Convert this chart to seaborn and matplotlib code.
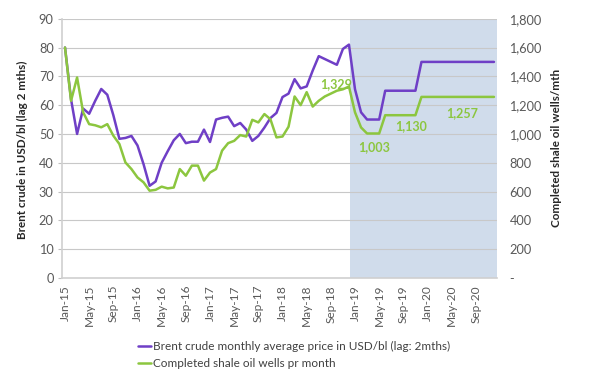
import numpy as np
import pandas as pd
import matplotlib.pyplot as plt
from matplotlib.lines import Line2D
import seaborn as sns

sns.set_style("white")
plt.rcParams['font.family'] = ['Lato', 'DejaVu Sans']

# Brent crude (USD/bl, lagged 2 months), Jan-15 .. Dec-20
brent = [80, 62, 50, 58.8, 57, 61.5, 65.6, 63.6, 56.5, 48.3, 48.6, 49.3,
         46, 39.5, 32, 33.5, 40, 44, 47.8, 50, 46.8, 47.3, 47.3, 51.5,
         47.2, 55, 55.6, 56, 52.7, 53.8, 51.5, 47.6, 49.3, 52.2, 55.5, 57.3,
         62.8, 64, 69, 65.8, 66.5, 72, 77, 76, 75, 74, 79.5, 81,
         65.5, 57.5, 55, 55, 55, 65, 65, 65, 65, 65, 65, 75,
         75, 75, 75, 75, 75, 75, 75, 75, 75, 75, 75, 75]

# Completed shale oil wells per month
wells = [1600, 1230, 1392, 1150, 1068, 1060, 1046, 1068, 988, 930, 802, 756,
         698, 664, 606, 612, 634, 622, 628, 756, 710, 780, 780, 676,
         732, 756, 884, 936, 952, 992, 982, 1098, 1080, 1138, 1102, 976,
         982, 1050, 1260, 1200, 1290, 1190, 1230, 1260, 1280, 1300, 1310, 1329,
         1150, 1045, 1003, 1003, 1003, 1130, 1130, 1130, 1130, 1130, 1130, 1257,
         1257, 1257, 1257, 1257, 1257, 1257, 1257, 1257, 1257, 1257, 1257, 1257]

tick_labels = ['Jan-15', 'May-15', 'Sep-15', 'Jan-16', 'May-16', 'Sep-16',
               'Jan-17', 'May-17', 'Sep-17', 'Jan-18', 'May-18', 'Sep-18',
               'Jan-19', 'May-19', 'Sep-19', 'Jan-20', 'May-20', 'Sep-20']

# labelled points: (month index, wells value)
label_points = [(47, 1329), (51, 1003), (57, 1130), (65, 1257)]

purple = '#6F3FC6'
green = '#8CC63F'
grey = '#595959'

df = pd.DataFrame({'x': np.arange(len(brent)) + 0.5, 'brent': brent, 'wells': wells})

fig = plt.figure(figsize=(5.92, 3.87), dpi=100)
ax1 = fig.add_axes([0.1047, 0.2817, 0.7348, 0.67])
ax2 = ax1.twinx()

# forecast shading
ax1.axvspan(47.75, 72, color='#D0DCEB', zorder=0, lw=0)

sns.lineplot(data=df, x='x', y='brent', ax=ax1, color=purple, lw=1.8, zorder=3)
sns.lineplot(data=df, x='x', y='wells', ax=ax2, color=green, lw=1.8, zorder=3)

ax1.set_xlim(0, 72)
ax1.set_ylim(0, 90)
ax1.set_yticks(range(0, 91, 10))
ax2.set_ylim(0, 1800)
ax2.set_yticks(range(0, 1801, 200))
ax2.set_yticklabels(['-'] + [f'{v:,}' for v in range(200, 1801, 200)])

ax1.grid(axis='y', color='#C8C8C8', lw=0.8)
ax1.set_xticks(np.arange(0, 72, 4) + 0.5)
ax1.set_xticklabels(tick_labels, rotation=90)
ax1.set_xticks(np.arange(0, 73, 4), minor=True)
ax1.tick_params(axis='x', which='major', length=0, pad=5, labelsize=8.6, labelcolor=grey)
ax1.tick_params(axis='x', which='minor', length=4, width=0.8, color='#BFBFBF', direction='out')
ax1.tick_params(axis='y', length=3, width=0.8, color='#BFBFBF', labelsize=9.2, labelcolor=grey, pad=3)
ax2.tick_params(axis='y', length=0, labelsize=9.2, labelcolor=grey, pad=9)

for s in ['top', 'right']:
    ax1.spines[s].set_visible(False)
for s in ['left', 'bottom']:
    ax1.spines[s].set_color('#D0D0D0')
    ax1.spines[s].set_linewidth(1.2)
for s in ax2.spines.values():
    s.set_visible(False)

ax1.set_xlabel('')
ax1.set_ylabel('')
ax2.set_ylabel('')

fig.text(22 / 592, 1 - 150 / 387, 'Brent crude in USD/bl (lag 2 mths)', rotation=90,
         ha='center', va='center', fontsize=8.4, fontweight='bold')
fig.text(556 / 592, 1 - 148 / 387, 'Completed shale oil wells/mth', rotation=90,
         ha='center', va='center', fontsize=8.4, fontweight='bold')

offsets = [(2, 2), (1, -10), (1, -7.5), (3.5, -12)]
for (i, v), (dx, dy) in zip(label_points, offsets):
    ha = 'right' if dx == 2 else 'center'
    ax2.annotate(f'{v:,}', (i + 0.5, v), xytext=(dx, dy), textcoords='offset points',
                 ha=ha, va='center', fontsize=9, fontweight='bold', color=green, zorder=5)

handles = [Line2D([], [], color=purple, lw=1.8), Line2D([], [], color=green, lw=1.8)]
fig.legend(handles, ['Brent crude monthly average price in USD/bl (lag: 2mths)',
                     'Completed shale oil wells pr month'],
           loc='upper left', bbox_to_anchor=(132 / 592, 1 - 335 / 387), frameon=False,
           fontsize=8.5, handlelength=1.1, handletextpad=0.15, labelspacing=0.55,
           borderpad=0, labelcolor='#404040')

fig.savefig('out.png', dpi=100)
